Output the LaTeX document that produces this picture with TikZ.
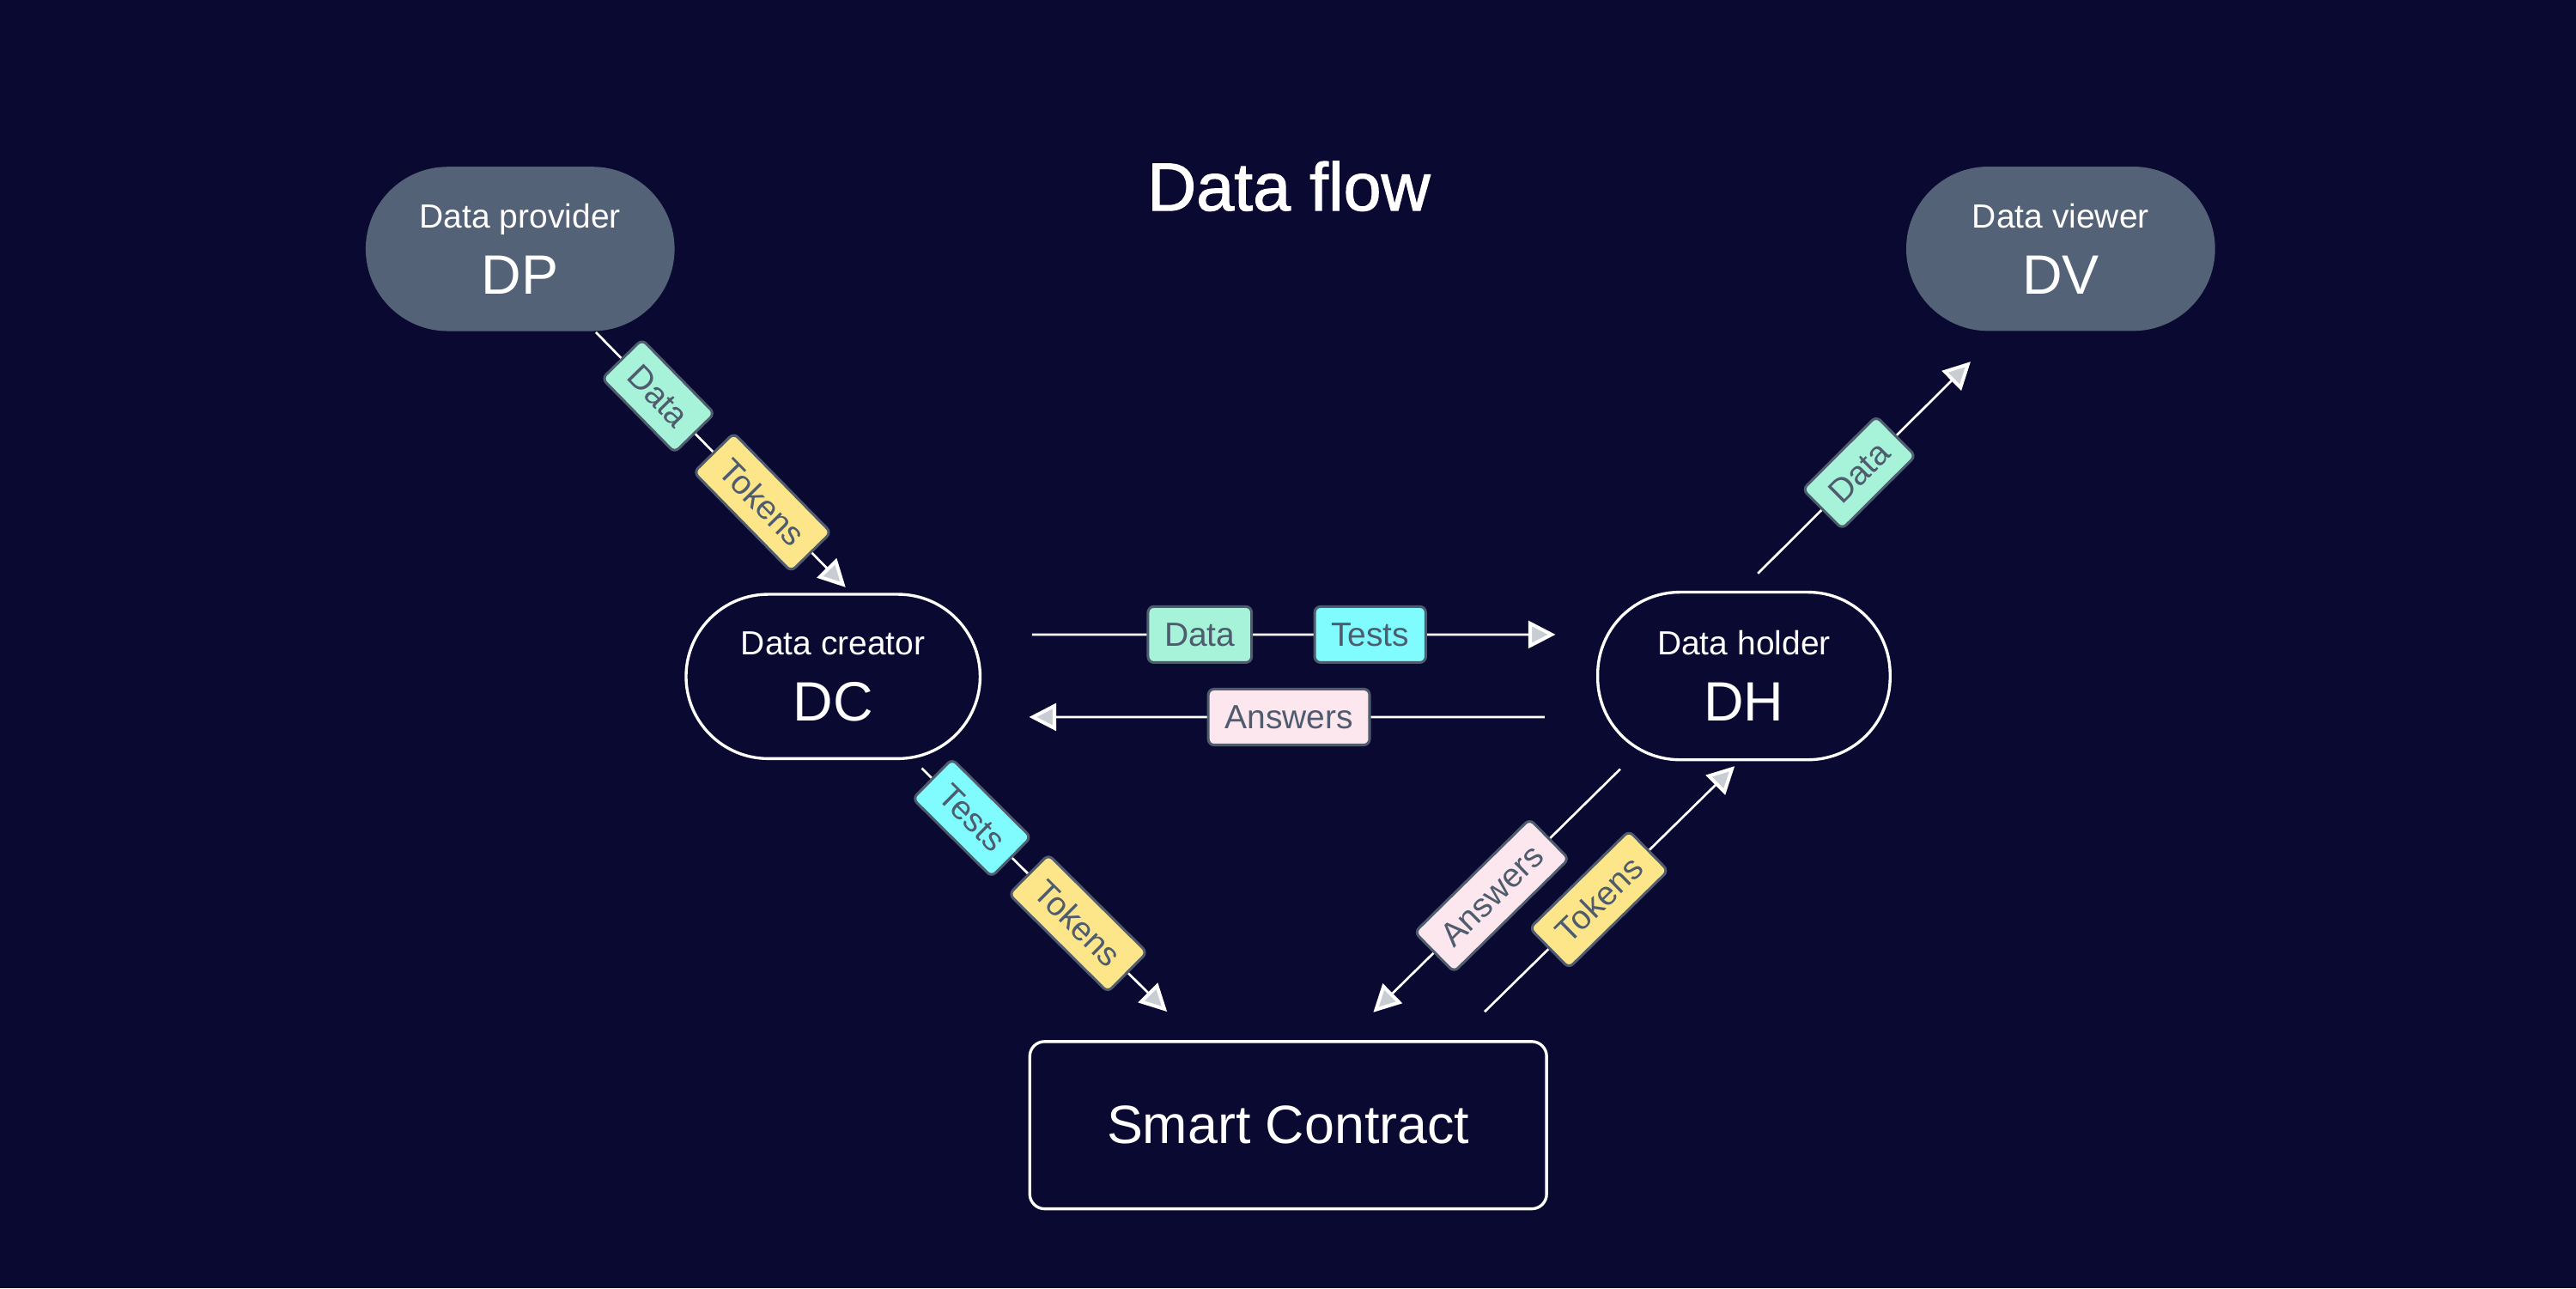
\documentclass[tikz,border=0pt]{standalone}
\usepackage{fontspec}
\setmainfont{Liberation Sans}
\newfontfamily\headfont[FakeBold=1.4]{Liberation Sans}
\usepackage{xcolor}
\usepackage{tikz}
\usetikzlibrary{arrows.meta}
\definecolor{bgnavy}{HTML}{0A0932}
\definecolor{slate}{HTML}{536276}
\definecolor{labelink}{HTML}{4E5C6E}
\definecolor{mint}{HTML}{A7F3DA}
\definecolor{sand}{HTML}{FDE68A}
\definecolor{aqua}{HTML}{80FCFF}
\definecolor{blush}{HTML}{FDE7EF}
\definecolor{tipgray}{HTML}{C8CDD4}

\begin{document}
\begin{tikzpicture}[
  actor/.style={rounded corners=0.5cm, minimum height=1cm, align=center, text=white, inner sep=0pt, font=\fontsize{5.8}{11.5}\selectfont},
  edgeactor/.style={actor, fill=slate, minimum width=1.88cm},
  coreactor/.style={actor, draw=white, line width=0.5pt, minimum width=1.79cm},
  tag/.style={draw=labelink, text=labelink, line width=0.45pt, rounded corners=1pt, minimum height=0.34cm, inner xsep=0.1cm, inner ysep=0pt, font=\fontsize{5.8}{7}\selectfont, sloped},
  flow/.style={white, line width=0.4pt, -{Triangle[length=1.65mm,width=1.65mm,fill=tipgray,line width=0.6pt]}}]
\useasboundingbox (0,0) rectangle (15.68,7.84);
\fill[bgnavy] (0,0) rectangle (15.68,7.84);

\node[text=white, anchor=base, font=\headfont\fontsize{11.76}{14}\selectfont] (title) at (7.845,6.559) {Data flow};

\node[edgeactor] (dp) at (3.166,6.325) {Data provider\\{\fontsize{9.6}{9.6}\selectfont DP}};
\node[edgeactor] (dv) at (12.543,6.326) {Data viewer\\{\fontsize{9.6}{9.6}\selectfont DV}};
\node[coreactor] (dc) at (5.071,3.723) {Data creator\\{\fontsize{9.6}{9.6}\selectfont DC}};
\node[coreactor, minimum width=1.78cm, minimum height=1.02cm] (dh) at (10.615,3.726) {Data holder\\{\fontsize{9.6}{9.6}\selectfont DH}};
\node[draw=white, line width=0.5pt, rounded corners=0.09cm, minimum width=3.146cm, minimum height=1.018cm, text=white, font=\fontsize{9.34}{11}\selectfont] (sc) at (7.841,0.992) {Smart Contract};

\draw[flow] ([xshift=0.461cm]dp.south) -- ([xshift=0.076cm,yshift=0.034cm]dc.north)
  node[tag, fill=mint, pos=0.25] (dp-data) {Data}
  node[tag, fill=sand, pos=0.667] (dp-tokens) {Tokens};
\draw[flow] ([xshift=0.54cm,yshift=-0.05cm]dc.south) -- ([xshift=-0.737cm,yshift=0.173cm]sc.north)
  node[tag, fill=aqua, pos=0.204] (dc-tests) {Tests}
  node[tag, fill=sand, pos=0.637] (dc-tokens) {Tokens};
\draw[flow] ([xshift=0.307cm,yshift=0.255cm]dc.east) -- ([xshift=-0.248cm,yshift=0.252cm]dh.west)
  node[tag, fill=mint, pos=0.3205] (dc-data) {Data}
  node[tag, fill=aqua, pos=0.646] (dh-tests) {Tests};
\draw[flow] ([xshift=-0.314cm,yshift=-0.25cm]dh.west) -- ([xshift=0.289cm,yshift=-0.247cm]dc.east)
  node[tag, fill=blush, pos=0.496] (dh-answers) {Answers};
\draw[flow] ([xshift=-0.753cm,yshift=-0.048cm]dh.south) -- ([xshift=0.518cm,yshift=0.169cm]sc.north)
  node[tag, fill=blush, pos=0.52] (sc-answers) {Answers};
\draw[flow] ([xshift=1.196cm,yshift=0.173cm]sc.north) -- ([xshift=-0.056cm,yshift=-0.03cm]dh.south)
  node[tag, fill=sand, pos=0.457] (sc-tokens) {Tokens};
\draw[flow] ([xshift=0.085cm,yshift=0.105cm]dh.north) -- ([xshift=-0.548cm,yshift=-0.18cm]dv.south)
  node[tag, fill=mint, pos=0.476] (dv-data) {Data};
\end{tikzpicture}
\end{document}
